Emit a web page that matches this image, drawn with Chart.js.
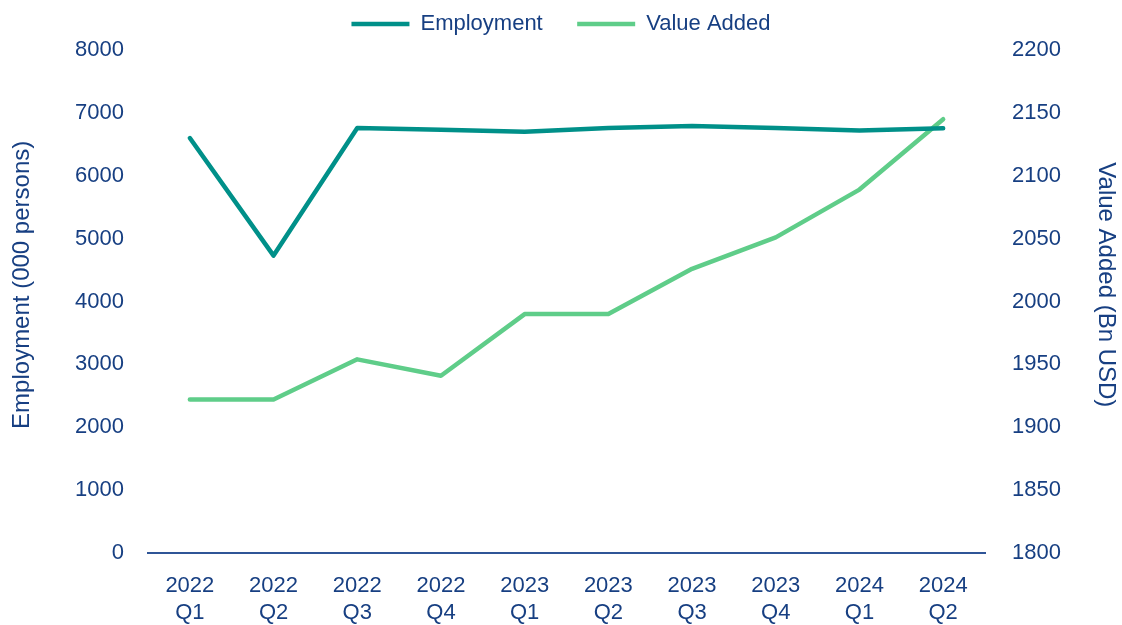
<!DOCTYPE html>
<html>
<head>
<meta charset="utf-8">
<script src="https://cdn.jsdelivr.net/npm/chart.js@4"></script>
<style>
  html, body { margin:0; padding:0; background:#fff; }
  #wrap { width:1122px; height:625px; }
</style>
</head>
<body>
<div id="wrap"><canvas id="chart" width="1122" height="625"></canvas></div>
<script>
// categories
const quarters = [
    ['2022','Q1'], ['2022','Q2'], ['2022','Q3'], ['2022','Q4'],
    ['2023','Q1'], ['2023','Q2'], ['2023','Q3'], ['2023','Q4'],
    ['2024','Q1'], ['2024','Q2']
];
// series
const employment = [6600, 4730, 6760, 6730, 6700, 6760, 6790, 6760, 6720, 6755];
const valueAdded = [1922, 1922, 1954, 1941, 1990, 1990, 2026, 2051, 2089, 2145];

const textColor = '#173F82';
const font = { family: 'Liberation Sans', size: 22 };
const titleFont = { family: 'Liberation Sans', size: 24 };

// legend keeps a fixed height so the plot starts lower
const legendHeight = {
    id: 'legendHeight',
    afterInit(chart) {
        const lg = chart.legend;
        const fit = lg.fit;
        lg.fit = function () { fit.call(this); this.height = 47; };
    }
};

new Chart(document.getElementById('chart'), {
    type: 'line',
    data: {
        labels: quarters,
        datasets: [
            { label:'Employment', data:employment, yAxisID:'y', borderColor:'#009089', backgroundColor:'#009089',
              borderWidth:4.5, pointRadius:0, tension:0, borderCapStyle:'round', borderJoinStyle:'round' },
            { label:'Value Added', data:valueAdded, yAxisID:'y1', borderColor:'#5FCD89', backgroundColor:'#5FCD89',
              borderWidth:4.5, pointRadius:0, tension:0, borderCapStyle:'round', borderJoinStyle:'round' }
        ]
    },
    plugins: [legendHeight],
    options: {
        responsive:false,
        animation:false,
        layout:{ padding:{ top:3 } },
        plugins:{
            legend:{
                position:'top',
                labels:{
                    usePointStyle:true, pointStyle:'line', pointStyleWidth:58, color:textColor, font:font, padding:10,
                    generateLabels: chart => Chart.defaults.plugins.legend.labels.generateLabels(chart)
                        .map((l, i) => { if (i === 0) l.text += '    '; return l; })
                }
            },
            tooltip:{ enabled:false }
        },
        scales:{
            x:{
                offset:true,
                grid:{ display:false, drawTicks:false },
                border:{ display:true, color:'#2F5597', width:2 },
                ticks:{ color:textColor, font:font, padding:20, maxRotation:0 },
                afterFit: s => { s.height = 72; }
            },
            y:{
                position:'left', min:0, max:8000,
                grid:{ display:false, drawTicks:false },
                border:{ display:false },
                ticks:{ stepSize:1000, color:textColor, font:font, padding:24, callback: v => String(v) },
                title:{ display:true, text:'     Employment (000 persons)', color:textColor, font:titleFont, padding:{ top:8, bottom:0 } },
                afterFit: s => { s.width = 148; }
            },
            y1:{
                position:'right', min:1800, max:2200,
                grid:{ display:false, drawTicks:false },
                border:{ display:false },
                ticks:{ stepSize:50, color:textColor, font:font, padding:27, callback: v => String(v) },
                title:{ display:true, text:'Value Added (Bn USD)     ', color:textColor, font:titleFont, padding:{ top:2, bottom:0 } },
                afterFit: s => { s.width = 137; }
            }
        }
    }
});
</script>
</body>
</html>
